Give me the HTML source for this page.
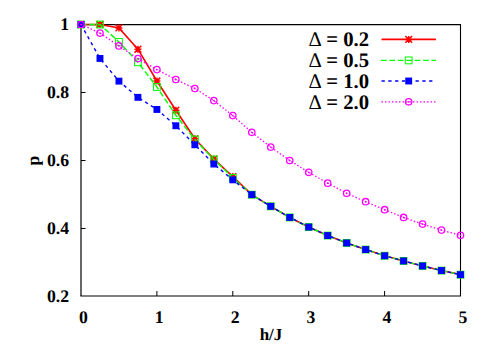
<!DOCTYPE html>
<html><head><meta charset="utf-8"><title>plot</title>
<style>html,body{margin:0;padding:0;background:#fff;}svg{display:block;}body{font-family:"Liberation Serif",serif;}</style>
</head><body>
<svg width="498" height="349" viewBox="0 0 498 349">
<rect width="498" height="349" fill="#fff"/>
<g stroke="#000" fill="none">
<path d="M80.4,24.7H461.05" stroke-width="1.2"/>
<path d="M80.4,296.0H461.05" stroke-width="1.2"/>
<path d="M81.0,24.7V296.0" stroke-width="1.2"/>
<path d="M460.5,24.7V296.0" stroke-width="1.1"/>
<path d="M156.90,296.0v-5" stroke-width="1"/>
<path d="M232.80,296.0v-5" stroke-width="1"/>
<path d="M308.70,296.0v-5" stroke-width="1"/>
<path d="M384.60,296.0v-5" stroke-width="1"/>
<path d="M81.0,92.50h4.5" stroke-width="1"/>
<path d="M81.0,160.50h4.5" stroke-width="1"/>
<path d="M81.0,228.50h4.5" stroke-width="1"/>
</g>
<polyline points="81.00,24.50 99.97,24.50 118.95,27.90 137.93,49.20 156.90,81.00 175.88,110.20 194.85,138.70 213.82,159.00 232.80,176.60 251.78,194.65 270.75,206.35 289.73,217.45 308.70,227.05 327.68,235.55 346.65,242.95 365.62,249.55 384.60,255.75 403.57,260.95 422.55,265.95 441.52,270.55 460.50,274.65" fill="none" stroke="#ff0000" stroke-width="1.6"/>
<path d="M77.50,24.50H84.50M81.00,21.00V28.00M77.61,21.11L84.39,27.89M77.61,27.89L84.39,21.11" stroke="#ff0000" stroke-width="1.5" fill="none"/>
<path d="M96.47,24.50H103.47M99.97,21.00V28.00M96.58,21.11L103.37,27.89M96.58,27.89L103.37,21.11" stroke="#ff0000" stroke-width="1.5" fill="none"/>
<path d="M115.45,27.90H122.45M118.95,24.40V31.40M115.56,24.50L122.34,31.29M115.56,31.29L122.34,24.50" stroke="#ff0000" stroke-width="1.5" fill="none"/>
<path d="M134.43,49.20H141.43M137.93,45.70V52.70M134.53,45.80L141.32,52.60M134.53,52.60L141.32,45.80" stroke="#ff0000" stroke-width="1.5" fill="none"/>
<path d="M153.40,81.00H160.40M156.90,77.50V84.50M153.50,77.61L160.30,84.39M153.50,84.39L160.30,77.61" stroke="#ff0000" stroke-width="1.5" fill="none"/>
<path d="M172.38,110.20H179.38M175.88,106.70V113.70M172.48,106.81L179.27,113.59M172.48,113.59L179.27,106.81" stroke="#ff0000" stroke-width="1.5" fill="none"/>
<path d="M191.35,138.70H198.35M194.85,135.20V142.20M191.45,135.30L198.25,142.09M191.45,142.09L198.25,135.30" stroke="#ff0000" stroke-width="1.5" fill="none"/>
<path d="M210.32,159.00H217.32M213.82,155.50V162.50M210.43,155.60L217.22,162.40M210.43,162.40L217.22,155.60" stroke="#ff0000" stroke-width="1.5" fill="none"/>
<path d="M229.30,176.60H236.30M232.80,173.10V180.10M229.41,173.20L236.20,180.00M229.41,180.00L236.20,173.20" stroke="#ff0000" stroke-width="1.5" fill="none"/>
<path d="M248.28,194.65H255.28M251.78,191.15V198.15M248.38,191.25L255.17,198.05M248.38,198.05L255.17,191.25" stroke="#ff0000" stroke-width="1.5" fill="none"/>
<path d="M267.25,206.35H274.25M270.75,202.85V209.85M267.36,202.95L274.14,209.75M267.36,209.75L274.14,202.95" stroke="#ff0000" stroke-width="1.5" fill="none"/>
<path d="M286.23,217.45H293.23M289.73,213.95V220.95M286.33,214.05L293.12,220.84M286.33,220.84L293.12,214.05" stroke="#ff0000" stroke-width="1.5" fill="none"/>
<path d="M305.20,227.05H312.20M308.70,223.55V230.55M305.31,223.66L312.09,230.45M305.31,230.45L312.09,223.66" stroke="#ff0000" stroke-width="1.5" fill="none"/>
<path d="M324.18,235.55H331.18M327.68,232.05V239.05M324.28,232.16L331.07,238.95M324.28,238.95L331.07,232.16" stroke="#ff0000" stroke-width="1.5" fill="none"/>
<path d="M343.15,242.95H350.15M346.65,239.45V246.45M343.25,239.55L350.04,246.34M343.25,246.34L350.04,239.55" stroke="#ff0000" stroke-width="1.5" fill="none"/>
<path d="M362.12,249.55H369.12M365.62,246.05V253.05M362.23,246.16L369.02,252.95M362.23,252.95L369.02,246.16" stroke="#ff0000" stroke-width="1.5" fill="none"/>
<path d="M381.10,255.75H388.10M384.60,252.25V259.25M381.21,252.35L388.00,259.14M381.21,259.14L388.00,252.35" stroke="#ff0000" stroke-width="1.5" fill="none"/>
<path d="M400.07,260.95H407.07M403.57,257.45V264.45M400.18,257.56L406.97,264.34M400.18,264.34L406.97,257.56" stroke="#ff0000" stroke-width="1.5" fill="none"/>
<path d="M419.05,265.95H426.05M422.55,262.45V269.45M419.16,262.56L425.94,269.34M419.16,269.34L425.94,262.56" stroke="#ff0000" stroke-width="1.5" fill="none"/>
<path d="M438.02,270.55H445.02M441.52,267.05V274.05M438.13,267.16L444.92,273.94M438.13,273.94L444.92,267.16" stroke="#ff0000" stroke-width="1.5" fill="none"/>
<path d="M457.00,274.65H464.00M460.50,271.15V278.15M457.11,271.25L463.89,278.04M457.11,278.04L463.89,271.25" stroke="#ff0000" stroke-width="1.5" fill="none"/>
<polyline points="81.00,24.50 99.97,24.50 118.95,41.90 137.93,62.30 156.90,87.00 175.88,115.30 194.85,139.50 213.82,159.40 232.80,177.80 251.78,194.65 270.75,206.35 289.73,217.45 308.70,227.05 327.68,235.55 346.65,242.95 365.62,249.55 384.60,255.75 403.57,260.95 422.55,265.95 441.52,270.55 460.50,274.65" fill="none" stroke="#00ff00" stroke-width="1.4" stroke-dasharray="5.7 2.7"/>
<rect x="77.60" y="21.10" width="6.8" height="6.8" stroke="#00ff00" stroke-width="1.0" fill="none"/>
<rect x="96.57" y="21.10" width="6.8" height="6.8" stroke="#00ff00" stroke-width="1.0" fill="none"/>
<rect x="115.55" y="38.50" width="6.8" height="6.8" stroke="#00ff00" stroke-width="1.0" fill="none"/>
<rect x="134.53" y="58.90" width="6.8" height="6.8" stroke="#00ff00" stroke-width="1.0" fill="none"/>
<rect x="153.50" y="83.60" width="6.8" height="6.8" stroke="#00ff00" stroke-width="1.0" fill="none"/>
<rect x="172.47" y="111.90" width="6.8" height="6.8" stroke="#00ff00" stroke-width="1.0" fill="none"/>
<rect x="191.45" y="136.10" width="6.8" height="6.8" stroke="#00ff00" stroke-width="1.0" fill="none"/>
<rect x="210.42" y="156.00" width="6.8" height="6.8" stroke="#00ff00" stroke-width="1.0" fill="none"/>
<rect x="229.40" y="174.40" width="6.8" height="6.8" stroke="#00ff00" stroke-width="1.0" fill="none"/>
<rect x="248.38" y="191.25" width="6.8" height="6.8" stroke="#00ff00" stroke-width="1.0" fill="none"/>
<rect x="267.35" y="202.95" width="6.8" height="6.8" stroke="#00ff00" stroke-width="1.0" fill="none"/>
<rect x="286.33" y="214.05" width="6.8" height="6.8" stroke="#00ff00" stroke-width="1.0" fill="none"/>
<rect x="305.30" y="223.65" width="6.8" height="6.8" stroke="#00ff00" stroke-width="1.0" fill="none"/>
<rect x="324.28" y="232.15" width="6.8" height="6.8" stroke="#00ff00" stroke-width="1.0" fill="none"/>
<rect x="343.25" y="239.55" width="6.8" height="6.8" stroke="#00ff00" stroke-width="1.0" fill="none"/>
<rect x="362.23" y="246.15" width="6.8" height="6.8" stroke="#00ff00" stroke-width="1.0" fill="none"/>
<rect x="381.20" y="252.35" width="6.8" height="6.8" stroke="#00ff00" stroke-width="1.0" fill="none"/>
<rect x="400.18" y="257.55" width="6.8" height="6.8" stroke="#00ff00" stroke-width="1.0" fill="none"/>
<rect x="419.15" y="262.55" width="6.8" height="6.8" stroke="#00ff00" stroke-width="1.0" fill="none"/>
<rect x="438.12" y="267.15" width="6.8" height="6.8" stroke="#00ff00" stroke-width="1.0" fill="none"/>
<rect x="457.10" y="271.25" width="6.8" height="6.8" stroke="#00ff00" stroke-width="1.0" fill="none"/>
<polyline points="81.00,24.50 99.97,58.45 118.95,81.15 137.93,97.35 156.90,109.45 175.88,125.75 194.85,144.75 213.82,164.05 232.80,179.85 251.78,194.65 270.75,206.35 289.73,217.45 308.70,227.05 327.68,235.55 346.65,242.95 365.62,249.55 384.60,255.75 403.57,260.95 422.55,265.95 441.52,270.55 460.50,274.65" fill="none" stroke="#0000ff" stroke-width="1.4" stroke-dasharray="3.3 3.5"/>
<rect x="77.55" y="21.05" width="6.9" height="6.9" fill="#0000ff"/>
<rect x="96.52" y="55.00" width="6.9" height="6.9" fill="#0000ff"/>
<rect x="115.50" y="77.70" width="6.9" height="6.9" fill="#0000ff"/>
<rect x="134.48" y="93.90" width="6.9" height="6.9" fill="#0000ff"/>
<rect x="153.45" y="106.00" width="6.9" height="6.9" fill="#0000ff"/>
<rect x="172.43" y="122.30" width="6.9" height="6.9" fill="#0000ff"/>
<rect x="191.40" y="141.30" width="6.9" height="6.9" fill="#0000ff"/>
<rect x="210.38" y="160.60" width="6.9" height="6.9" fill="#0000ff"/>
<rect x="229.35" y="176.40" width="6.9" height="6.9" fill="#0000ff"/>
<rect x="248.33" y="191.20" width="6.9" height="6.9" fill="#0000ff"/>
<rect x="267.30" y="202.90" width="6.9" height="6.9" fill="#0000ff"/>
<rect x="286.28" y="214.00" width="6.9" height="6.9" fill="#0000ff"/>
<rect x="305.25" y="223.60" width="6.9" height="6.9" fill="#0000ff"/>
<rect x="324.23" y="232.10" width="6.9" height="6.9" fill="#0000ff"/>
<rect x="343.20" y="239.50" width="6.9" height="6.9" fill="#0000ff"/>
<rect x="362.18" y="246.10" width="6.9" height="6.9" fill="#0000ff"/>
<rect x="381.15" y="252.30" width="6.9" height="6.9" fill="#0000ff"/>
<rect x="400.12" y="257.50" width="6.9" height="6.9" fill="#0000ff"/>
<rect x="419.10" y="262.50" width="6.9" height="6.9" fill="#0000ff"/>
<rect x="438.07" y="267.10" width="6.9" height="6.9" fill="#0000ff"/>
<rect x="457.05" y="271.20" width="6.9" height="6.9" fill="#0000ff"/>
<polyline points="81.00,24.50 99.97,33.10 118.95,45.90 137.93,58.60 156.90,69.60 175.88,79.50 194.85,88.50 213.82,100.60 232.80,115.60 251.78,132.30 270.75,147.10 289.73,160.50 308.70,172.30 327.68,183.15 346.65,193.30 365.62,201.70 384.60,209.70 403.57,217.45 422.55,224.10 441.52,230.10 460.50,235.30" fill="none" stroke="#ff00ff" stroke-width="1.3" stroke-dasharray="1.5 2"/>
<circle cx="81.00" cy="24.50" r="3.2" stroke="#ff00ff" stroke-width="1.3" fill="none"/><circle cx="81.00" cy="24.50" r="0.9" fill="#ff00ff"/>
<circle cx="99.97" cy="33.10" r="3.2" stroke="#ff00ff" stroke-width="1.3" fill="none"/><circle cx="99.97" cy="33.10" r="0.9" fill="#ff00ff"/>
<circle cx="118.95" cy="45.90" r="3.2" stroke="#ff00ff" stroke-width="1.3" fill="none"/><circle cx="118.95" cy="45.90" r="0.9" fill="#ff00ff"/>
<circle cx="137.93" cy="58.60" r="3.2" stroke="#ff00ff" stroke-width="1.3" fill="none"/><circle cx="137.93" cy="58.60" r="0.9" fill="#ff00ff"/>
<circle cx="156.90" cy="69.60" r="3.2" stroke="#ff00ff" stroke-width="1.3" fill="none"/><circle cx="156.90" cy="69.60" r="0.9" fill="#ff00ff"/>
<circle cx="175.88" cy="79.50" r="3.2" stroke="#ff00ff" stroke-width="1.3" fill="none"/><circle cx="175.88" cy="79.50" r="0.9" fill="#ff00ff"/>
<circle cx="194.85" cy="88.50" r="3.2" stroke="#ff00ff" stroke-width="1.3" fill="none"/><circle cx="194.85" cy="88.50" r="0.9" fill="#ff00ff"/>
<circle cx="213.82" cy="100.60" r="3.2" stroke="#ff00ff" stroke-width="1.3" fill="none"/><circle cx="213.82" cy="100.60" r="0.9" fill="#ff00ff"/>
<circle cx="232.80" cy="115.60" r="3.2" stroke="#ff00ff" stroke-width="1.3" fill="none"/><circle cx="232.80" cy="115.60" r="0.9" fill="#ff00ff"/>
<circle cx="251.78" cy="132.30" r="3.2" stroke="#ff00ff" stroke-width="1.3" fill="none"/><circle cx="251.78" cy="132.30" r="0.9" fill="#ff00ff"/>
<circle cx="270.75" cy="147.10" r="3.2" stroke="#ff00ff" stroke-width="1.3" fill="none"/><circle cx="270.75" cy="147.10" r="0.9" fill="#ff00ff"/>
<circle cx="289.73" cy="160.50" r="3.2" stroke="#ff00ff" stroke-width="1.3" fill="none"/><circle cx="289.73" cy="160.50" r="0.9" fill="#ff00ff"/>
<circle cx="308.70" cy="172.30" r="3.2" stroke="#ff00ff" stroke-width="1.3" fill="none"/><circle cx="308.70" cy="172.30" r="0.9" fill="#ff00ff"/>
<circle cx="327.68" cy="183.15" r="3.2" stroke="#ff00ff" stroke-width="1.3" fill="none"/><circle cx="327.68" cy="183.15" r="0.9" fill="#ff00ff"/>
<circle cx="346.65" cy="193.30" r="3.2" stroke="#ff00ff" stroke-width="1.3" fill="none"/><circle cx="346.65" cy="193.30" r="0.9" fill="#ff00ff"/>
<circle cx="365.62" cy="201.70" r="3.2" stroke="#ff00ff" stroke-width="1.3" fill="none"/><circle cx="365.62" cy="201.70" r="0.9" fill="#ff00ff"/>
<circle cx="384.60" cy="209.70" r="3.2" stroke="#ff00ff" stroke-width="1.3" fill="none"/><circle cx="384.60" cy="209.70" r="0.9" fill="#ff00ff"/>
<circle cx="403.57" cy="217.45" r="3.2" stroke="#ff00ff" stroke-width="1.3" fill="none"/><circle cx="403.57" cy="217.45" r="0.9" fill="#ff00ff"/>
<circle cx="422.55" cy="224.10" r="3.2" stroke="#ff00ff" stroke-width="1.3" fill="none"/><circle cx="422.55" cy="224.10" r="0.9" fill="#ff00ff"/>
<circle cx="441.52" cy="230.10" r="3.2" stroke="#ff00ff" stroke-width="1.3" fill="none"/><circle cx="441.52" cy="230.10" r="0.9" fill="#ff00ff"/>
<circle cx="460.50" cy="235.30" r="3.2" stroke="#ff00ff" stroke-width="1.3" fill="none"/><circle cx="460.50" cy="235.30" r="0.9" fill="#ff00ff"/>
<path d="M381.5,39.4H435.9" stroke="#ff0000" stroke-width="1.6"/>
<path d="M405.20,39.40H412.20M408.70,35.90V42.90M405.31,36.00L412.09,42.80M405.31,42.80L412.09,36.00" stroke="#ff0000" stroke-width="1.5" fill="none"/>
<path d="M381.1,60.4H435.9" stroke="#00ff00" stroke-width="1.2" stroke-dasharray="5.7 2.7"/>
<rect x="405.30" y="57.00" width="6.8" height="6.8" stroke="#00ff00" stroke-width="1.0" fill="none"/>
<path d="M381.5,81.0H435.9" stroke="#0000ff" stroke-width="1.3" stroke-dasharray="3.3 3.5"/>
<rect x="405.25" y="77.55" width="6.9" height="6.9" fill="#0000ff"/>
<path d="M381.5,101.8H435.9" stroke="#ff00ff" stroke-width="1.3" stroke-dasharray="1.5 2"/>
<circle cx="408.70" cy="101.80" r="3.2" stroke="#ff00ff" stroke-width="1.3" fill="none"/><circle cx="408.70" cy="101.80" r="0.9" fill="#ff00ff"/>
<g font-family="'Liberation Serif', serif" font-weight="bold" fill="#000" text-rendering="geometricPrecision">
<text y="46.40" font-size="20.7"><tspan x="308.5" font-weight="normal">Δ</tspan><tspan x="326.3">=</tspan><tspan x="343.2">0.2</tspan></text>
<text y="67.40" font-size="20.7"><tspan x="308.5" font-weight="normal">Δ</tspan><tspan x="326.3">=</tspan><tspan x="343.2">0.5</tspan></text>
<text y="88.00" font-size="20.7"><tspan x="308.5" font-weight="normal">Δ</tspan><tspan x="326.3">=</tspan><tspan x="343.2">1.0</tspan></text>
<text y="108.80" font-size="20.7"><tspan x="308.5" font-weight="normal">Δ</tspan><tspan x="326.3">=</tspan><tspan x="343.2">2.0</tspan></text>
<text x="69" y="301.70" font-size="17.7" text-anchor="end">0.2</text>
<text x="69" y="234.20" font-size="17.7" text-anchor="end">0.4</text>
<text x="69" y="166.20" font-size="17.7" text-anchor="end">0.6</text>
<text x="69" y="98.20" font-size="17.7" text-anchor="end">0.8</text>
<text x="69" y="30.40" font-size="17.7" text-anchor="end">1</text>
<text x="83.30" y="322.5" font-size="17.7" text-anchor="middle">0</text>
<text x="159.20" y="322.5" font-size="17.7" text-anchor="middle">1</text>
<text x="235.10" y="322.5" font-size="17.7" text-anchor="middle">2</text>
<text x="311.00" y="322.5" font-size="17.7" text-anchor="middle">3</text>
<text x="386.90" y="322.5" font-size="17.7" text-anchor="middle">4</text>
<text x="462.80" y="322.5" font-size="17.7" text-anchor="middle">5</text>
<text x="271.0" y="340.4" font-size="17.0" text-anchor="middle">h/J</text>
<text transform="translate(39.0,160.5) rotate(-90)" font-size="17.7" text-anchor="middle">p</text>
</g>
</svg>
</body></html>
